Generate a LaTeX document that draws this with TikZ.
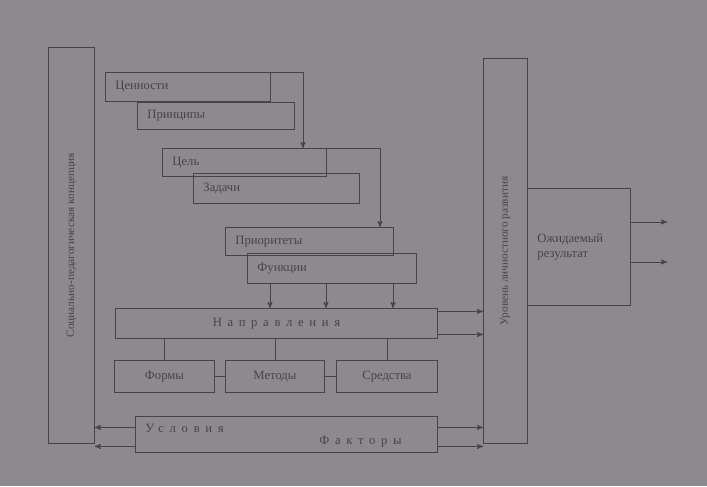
\documentclass[tikz,border=0pt]{standalone}
\usepackage{fontspec}
\setmainfont{Liberation Serif}
\newfontfamily\spaced[LetterSpace=45]{Liberation Serif}
\usetikzlibrary{arrows}
\definecolor{photo}{RGB}{141,138,143}
\definecolor{ink}{RGB}{70,68,73}
\tikzset{
  box/.style={draw=ink, semithick, text=ink, inner sep=0pt, anchor=north west, font=\small},
  lbox/.style={box, align=left, inner xsep=0.25cm},
  txt/.style={text=ink, inner sep=0pt, font=\small},
  flow/.style={draw=ink, semithick, ->, >=stealth'}
}

\begin{document}
\begin{tikzpicture}[x=0.025cm, y=-0.025cm]
      \fill [photo] (0, 0) rectangle (707, 486);
      \useasboundingbox (0, 0) rectangle (707, 486);

      % side columns
      \node [box, minimum width=1.15cm, minimum height=9.9cm] (lv) at (48, 47) {};
      \node [txt, rotate=90, font=\footnotesize] (lvtext) at (lv.center) {Социально-педагогическая концепция};
      \node [box, minimum width=1.1cm, minimum height=9.625cm] (rv) at (483, 58) {};
      \node [txt, rotate=90, font=\footnotesize] (rvtext) at (rv.center) {Уровень личностного развития};

      % stepped blocks
      \node [lbox, minimum width=4.125cm, text width=3.625cm, minimum height=0.725cm] (cen) at (105, 72) {Ценности};
      \node [lbox, minimum width=3.925cm, text width=3.425cm, minimum height=0.675cm] (prin) at (137, 102) {Принципы};
      \node [lbox, minimum width=4.1cm, text width=3.6cm, minimum height=0.7cm] (cel) at (162, 148) {Цель};
      \node [lbox, minimum width=4.15cm, text width=3.65cm, minimum height=0.75cm] (zad) at (193, 173) {Задачи};
      \node [lbox, minimum width=4.2cm, text width=3.7cm, minimum height=0.7cm] (prio) at (225, 227) {Приоритеты};
      \node [lbox, minimum width=4.225cm, text width=3.725cm, minimum height=0.75cm] (fun) at (247, 253) {Функции};

      \node [box, minimum width=8.05cm, minimum height=0.75cm] (nap) at (115, 308) {\spaced Направления};

      \node [box, minimum width=2.5cm, minimum height=0.8cm] (form) at (114, 360) {Формы};
      \node [box, minimum width=2.475cm, minimum height=0.8cm] (met) at (225, 360) {Методы};
      \node [box, minimum width=2.525cm, minimum height=0.8cm] (sred) at (336, 360) {Средства};

      \node [box, minimum width=7.55cm, minimum height=0.9cm] (usl) at (135, 416) {};
      \node [txt, anchor=west] (usltext) at ([xshift=0.25cm, yshift=-0.3cm]usl.north west) {\spaced Условия};
      \node [txt, anchor=east] (faktext) at ([xshift=-0.9cm, yshift=0.28cm]usl.south east) {\spaced Факторы};

      \node [lbox, minimum width=2.575cm, text width=2.075cm, minimum height=2.925cm] (res) at (527, 188) {Ожидаемый\\результат};

      % connectors
      \coordinate (t1) at (303, 72);
      \coordinate (t2) at (380, 148);
      \draw [flow] (cen.north east) -- (t1) -- (t1 |- cel.north);
      \draw [flow] (cel.north east) -- (t2) -- (t2 |- prio.north);

      \foreach \x in {270, 326, 393} {
        \coordinate (f) at (\x, 0);
        \draw [flow] (fun.south -| f) -- (nap.north -| f);
      }

      \draw [ink, semithick] (nap.south -| form.north) -- (form.north);
      \draw [ink, semithick] (nap.south -| met.north) -- (met.north);
      \draw [ink, semithick] (nap.south -| sred.north) -- (sred.north);
      \draw [ink, semithick] (form.east) -- (met.west);
      \draw [ink, semithick] (met.east) -- (sred.west);

      \draw [flow] ([yshift=0.3cm]nap.east) -- ([yshift=0.3cm]nap.east -| rv.west);
      \draw [flow] ([yshift=-0.275cm]nap.east) -- ([yshift=-0.275cm]nap.east -| rv.west);

      \draw [flow] ([yshift=0.175cm]usl.west) -- ([yshift=0.175cm]usl.west -| lv.east);
      \draw [flow] ([yshift=-0.3cm]usl.west) -- ([yshift=-0.3cm]usl.west -| lv.east);
      \draw [flow] ([yshift=0.175cm]usl.east) -- ([yshift=0.175cm]usl.east -| rv.west);
      \draw [flow] ([yshift=-0.3cm]usl.east) -- ([yshift=-0.3cm]usl.east -| rv.west);

      \coordinate (out1) at (667, 222);
      \coordinate (out2) at (667, 262);
      \draw [flow] (res.east |- out1) -- (out1);
      \draw [flow] (res.east |- out2) -- (out2);
    \end{tikzpicture}
\end{document}
